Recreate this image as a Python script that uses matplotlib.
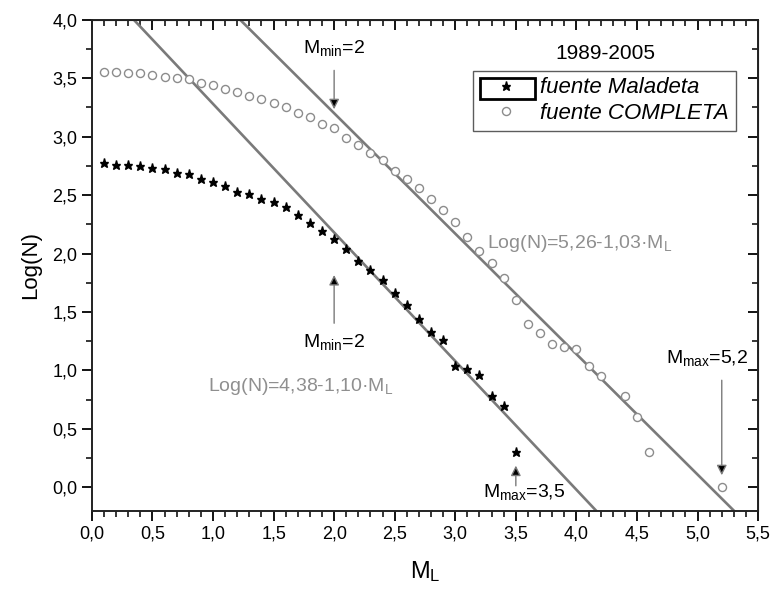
import numpy as np
import matplotlib.pyplot as plt
from matplotlib.ticker import MultipleLocator, FuncFormatter
from matplotlib.patches import Rectangle

plt.rcParams['font.family'] = ['Liberation Sans', 'DejaVu Sans']
plt.rcParams['mathtext.default'] = 'regular'

# magnitudes and cumulative log counts
m_maladeta = [0.1, 0.2, 0.3, 0.4, 0.5, 0.6, 0.7, 0.8, 0.9, 1.0,
              1.1, 1.2, 1.3, 1.4, 1.5, 1.6, 1.7, 1.8, 1.9, 2.0,
              2.1, 2.2, 2.3, 2.4, 2.5, 2.6, 2.7, 2.8, 2.9, 3.0,
              3.1, 3.2, 3.3, 3.4, 3.5]
logn_maladeta = [2.77, 2.76, 2.76, 2.75, 2.73, 2.72, 2.69, 2.68, 2.64, 2.61,
                 2.58, 2.53, 2.51, 2.47, 2.44, 2.40, 2.33, 2.26, 2.19, 2.12,
                 2.04, 1.94, 1.86, 1.77, 1.66, 1.56, 1.44, 1.33, 1.26, 1.04,
                 1.01, 0.96, 0.78, 0.70, 0.30]

m_completa = [0.1, 0.2, 0.3, 0.4, 0.5, 0.6, 0.7, 0.8, 0.9, 1.0,
              1.1, 1.2, 1.3, 1.4, 1.5, 1.6, 1.7, 1.8, 1.9, 2.0,
              2.1, 2.2, 2.3, 2.4, 2.5, 2.6, 2.7, 2.8, 2.9, 3.0,
              3.1, 3.2, 3.3, 3.4, 3.5, 3.6, 3.7, 3.8, 3.9, 4.0,
              4.1, 4.2, 4.4, 4.5, 4.6, 5.2]
logn_completa = [3.55, 3.55, 3.545, 3.54, 3.53, 3.51, 3.50, 3.49, 3.46, 3.44,
                 3.41, 3.38, 3.35, 3.32, 3.29, 3.25, 3.20, 3.17, 3.11, 3.07,
                 2.99, 2.93, 2.86, 2.80, 2.71, 2.64, 2.56, 2.47, 2.37, 2.27,
                 2.14, 2.02, 1.92, 1.79, 1.60, 1.40, 1.32, 1.23, 1.20, 1.18,
                 1.04, 0.955, 0.78, 0.60, 0.30, 0.00]

# Gutenberg-Richter fits: log N = a - b*M
fit_maladeta = (4.38, 1.10)
fit_completa = (5.26, 1.03)

GRAY = '#7a7a7a'


def comma(v, pos):
    return f"{v:.1f}".replace('.', ',')


fig = plt.figure(figsize=(7.72, 5.96), dpi=100)
ax = fig.add_axes([0.119, 0.143, 0.863, 0.824])

m_line = np.array([0.0, 5.5])
for a, b in (fit_maladeta, fit_completa):
    ax.plot(m_line, a - b * m_line, color=GRAY, lw=1.9, zorder=2)

ax.plot(m_maladeta, logn_maladeta, ls='none', marker='*', ms=6.5,
        color='black', label='fuente Maladeta', zorder=3)
ax.plot(m_completa, logn_completa, ls='none', marker='o', ms=5.8,
        mfc='white', mec='#8c8c8c', mew=1.0, label='fuente COMPLETA', zorder=3)

ax.set_xlim(0, 5.5)
ax.set_ylim(-0.2, 4.0)
ax.xaxis.set_major_locator(MultipleLocator(0.5))
ax.xaxis.set_minor_locator(MultipleLocator(0.1))
ax.yaxis.set_major_locator(MultipleLocator(0.5))
ax.yaxis.set_minor_locator(MultipleLocator(0.25))
ax.xaxis.set_major_formatter(FuncFormatter(comma))
ax.yaxis.set_major_formatter(FuncFormatter(comma))
ax.tick_params(which='major', direction='out', length=7, width=1.3, labelsize=13)
ax.tick_params(which='minor', direction='out', length=4, width=1.1)
for s in ax.spines.values():
    s.set_linewidth(1.4)
    s.set_color('#222222')

# inward ticks on top and right like the original software
top = ax.secondary_xaxis('top')
top.xaxis.set_major_locator(MultipleLocator(0.5))
top.xaxis.set_minor_locator(MultipleLocator(0.1))
top.tick_params(which='major', direction='in', length=7, width=1.3, labeltop=False)
top.tick_params(which='minor', direction='in', length=4, width=1.1)
right = ax.secondary_yaxis('right')
right.yaxis.set_major_locator(MultipleLocator(0.5))
right.yaxis.set_minor_locator(MultipleLocator(0.25))
right.tick_params(which='major', direction='in', length=7, width=1.3, labelright=False)
right.tick_params(which='minor', direction='in', length=4, width=1.1)

ax.set_xlabel('$M_L$', fontsize=17, labelpad=12)
ax.set_ylabel('Log(N)', fontsize=16, labelpad=8)

# annotations
arrow = dict(arrowstyle='-|>', ec=GRAY, fc='black', lw=1.0, mutation_scale=15)
ax.annotate('', xy=(2.0, 3.21), xytext=(2.0, 3.59), arrowprops=arrow)
ax.text(2.0, 3.76, '$M_{min}$=2', fontsize=14, ha='center', va='center')
ax.annotate('', xy=(2.0, 1.84), xytext=(2.0, 1.38), arrowprops=arrow)
ax.text(2.0, 1.24, '$M_{min}$=2', fontsize=14, ha='center', va='center')
ax.annotate('', xy=(3.5, 0.21), xytext=(3.5, -0.01), arrowprops=arrow)
ax.text(3.23, -0.04, '$M_{max}$=3,5', fontsize=14, ha='left', va='center')
ax.annotate('', xy=(5.2, 0.08), xytext=(5.2, 0.94), arrowprops=arrow)
ax.text(4.74, 1.11, '$M_{max}$=5,2', fontsize=14, ha='left', va='center')

ax.text(0.96, 0.86, 'Log(N)=4,38-1,10·$M_L$', fontsize=14, color='#8f8f8f',
        ha='left', va='center')
ax.text(3.26, 2.09, 'Log(N)=5,26-1,03·$M_L$', fontsize=14, color='#8f8f8f',
        ha='left', va='center')
ax.text(4.24, 3.71, '1989-2005', fontsize=15, ha='center', va='center')

leg = ax.legend(loc='upper left', bbox_to_anchor=(0.572, 0.896),
                frameon=True, fancybox=False, edgecolor='#333333',
                prop={'size': 16, 'style': 'italic'}, handlelength=2.4,
                handletextpad=0.33, borderpad=0.3, labelspacing=0.2,
                borderaxespad=0)
leg.get_frame().set_linewidth(1.0)
ax.add_patch(Rectangle((0.583, 0.838), 0.082, 0.043, transform=ax.transAxes,
                       fill=False, lw=2.0, ec='black', clip_on=False, zorder=6))

fig.savefig('out.png', dpi=100)
